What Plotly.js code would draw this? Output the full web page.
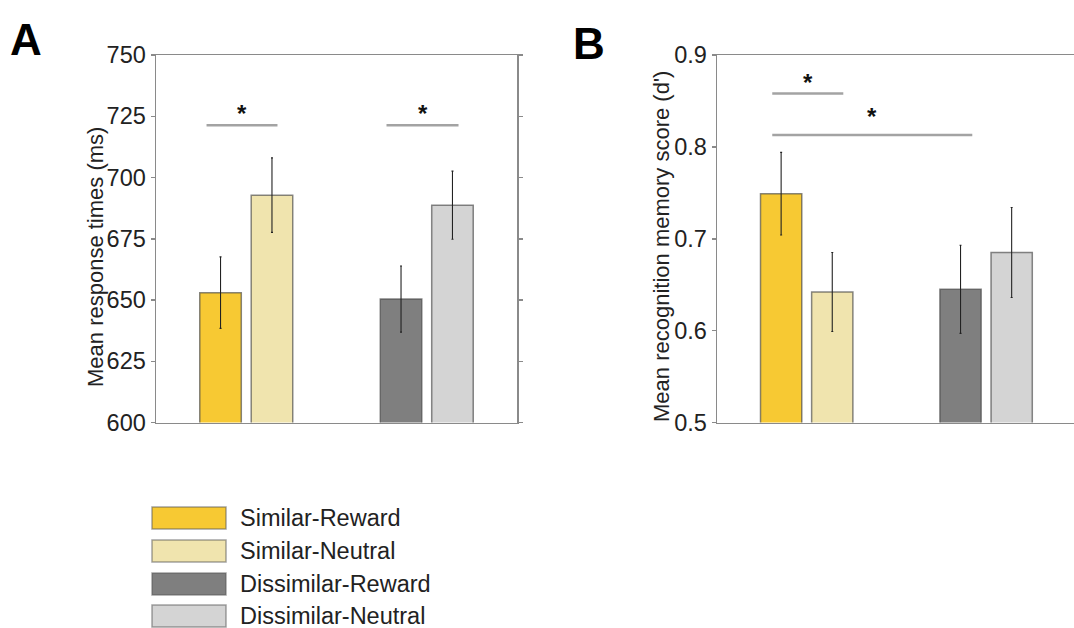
<!DOCTYPE html>
<html>
<head>
<meta charset="utf-8">
<script src="https://cdn.plot.ly/plotly-3.0.1.min.js"></script>
<style>
  html, body { margin: 0; padding: 0; background: #ffffff; }
  #chart { width: 1074px; height: 628px; }
</style>
</head>
<body>
<div id="chart"></div>
<script>
// ---------------- data ----------------
var conditions = ['Similar-Reward', 'Similar-Neutral', 'Dissimilar-Reward', 'Dissimilar-Neutral'];
var groupOf = ['Similar', 'Similar', 'Dissimilar', 'Dissimilar'];
var groups = ['Similar', 'Dissimilar'];

// Panel A: mean response times (ms) and error (SEM)
var rtMean = [653, 692.8, 650.4, 688.7];
var rtErr = [14.6, 15.2, 13.5, 13.9];

// Panel B: mean recognition memory score (d') and error (SEM)
var dMean = [0.749, 0.642, 0.645, 0.685];
var dErr = [0.045, 0.043, 0.048, 0.049];

// significance markers: [x0, x1, y] in axis units
var sigA = [[-0.22, 0.173, 721.3], [0.777, 1.176, 721.3]];
var sigB = [[-0.192, 0.204, 0.858], [-0.192, 0.923, 0.8128]];

var yTicksA = [600, 625, 650, 675, 700, 725, 750];
var yTicksB = [0.5, 0.6, 0.7, 0.8, 0.9];

// ---------------- style ----------------
var colors = ['#F7C933', '#F0E4AE', '#7F7F7F', '#D4D4D4'];
var barW = 0.23, innerGap = 0.055;
var offsets = [-(barW + innerGap / 2), innerGap / 2, -(barW + innerGap / 2), innerGap / 2];
var font = 'Liberation Sans, Arial, sans-serif';
var axisCol = '#8a8a8a';
var W = 1074, H = 628;
function px(x) { return x / W; }
function py(y) { return 1 - y / H; }

var traces = [];
function addPanel(means, errs, xa, ya) {
  for (var i = 0; i < conditions.length; i++) {
    traces.push({
      type: 'bar',
      name: conditions[i],
      x: [groupOf[i]],
      y: [means[i]],
      width: barW,
      offset: offsets[i],
      xaxis: xa, yaxis: ya,
      marker: { color: colors[i], line: { color: 'rgba(70,70,70,0.65)', width: 1.5 } },
      error_y: { type: 'data', array: [errs[i]], visible: true, color: '#222', thickness: 1.1, width: 1 },
      showlegend: false,
      hoverinfo: 'skip'
    });
  }
}
addPanel(rtMean, rtErr, 'x', 'y');
addPanel(dMean, dErr, 'x2', 'y2');

var shapes = [];
var annotations = [];
function addSig(list, xr, yr) {
  list.forEach(function (s) {
    shapes.push({ type: 'line', xref: xr, yref: yr, x0: s[0], x1: s[1], y0: s[2], y1: s[2],
                  line: { color: '#a3a3a3', width: 2.5 } });
  });
}
addSig(sigA, 'x', 'y');
addSig(sigB, 'x2', 'y2');

// stars (centered over each significance line)
var starsA = [[(sigA[0][0] + sigA[0][1]) / 2, 728.3], [(sigA[1][0] + sigA[1][1]) / 2, 728.3]];
var starsB = [[(sigB[0][0] + sigB[0][1]) / 2, 0.876], [(sigB[1][0] + sigB[1][1]) / 2, 0.838]];
function addStars(list, xr, yr) {
  list.forEach(function (s) {
    annotations.push({ xref: xr, yref: yr, x: s[0], y: s[1], text: '<b>*</b>', showarrow: false,
                       font: { family: font, size: 24, color: '#111' }, yanchor: 'middle', yshift: -5 });
  });
}
addStars(starsA, 'x', 'y');
addStars(starsB, 'x2', 'y2');

// panel letters
annotations.push({ xref: 'paper', yref: 'paper', x: px(8), y: py(40), xanchor: 'left', yanchor: 'middle',
                   text: '<b>A</b>', showarrow: false, font: { family: font, size: 44, color: '#000' } });
annotations.push({ xref: 'paper', yref: 'paper', x: px(571), y: py(43), xanchor: 'left', yanchor: 'middle',
                   text: '<b>B</b>', showarrow: false, font: { family: font, size: 44, color: '#000' } });

// y-axis titles
annotations.push({ xref: 'paper', yref: 'paper', x: px(95), y: py(257), xanchor: 'center', yanchor: 'middle',
                   text: 'Mean response times (ms)', textangle: -90, showarrow: false,
                   font: { family: font, size: 22, color: '#222' } });
annotations.push({ xref: 'paper', yref: 'paper', x: px(661), y: py(247), xanchor: 'center', yanchor: 'middle',
                   text: "Mean recognition memory score (d')", textangle: -90, showarrow: false,
                   font: { family: font, size: 22, color: '#222' } });

// legend (drawn as patches + labels)
var legRowY = [518, 551, 584, 616];
for (var i = 0; i < conditions.length; i++) {
  shapes.push({ type: 'rect', xref: 'paper', yref: 'paper', x0: px(152), x1: px(226),
                y0: py(legRowY[i] + 11), y1: py(legRowY[i] - 11),
                fillcolor: colors[i], line: { color: 'rgba(90,90,90,0.55)', width: 1.5 } });
  annotations.push({ xref: 'paper', yref: 'paper', x: px(238), y: py(legRowY[i]), xanchor: 'left', yanchor: 'middle',
                     text: conditions[i], showarrow: false, font: { family: font, size: 23.5, color: '#222' } });
}

var baseX = { type: 'category', categoryorder: 'array', categoryarray: groups, range: [-0.5, 1.5],
              showticklabels: false, ticks: '', showgrid: false, zeroline: false,
              showline: true, linecolor: axisCol, linewidth: 1.5, mirror: true, fixedrange: true };
var baseY = { showgrid: false, zeroline: false, showline: true, linecolor: axisCol, linewidth: 1.5,
              ticks: 'outside', ticklen: 4, tickcolor: axisCol, tickwidth: 1.5,
              tickfont: { family: font, size: 23.5, color: '#222' }, fixedrange: true };

var layout = {
  width: W, height: H,
  margin: { l: 0, r: 0, t: 0, b: 0 },
  paper_bgcolor: '#ffffff', plot_bgcolor: '#ffffff',
  showlegend: false,
  barmode: 'overlay',
  xaxis: Object.assign({}, baseX, { domain: [px(156), px(517)], anchor: 'y' }),
  yaxis: Object.assign({}, baseY, { domain: [py(422.5), py(55)], anchor: 'x', range: [600, 750],
                                    tickvals: yTicksA, mirror: 'ticks' }),
  xaxis2: Object.assign({}, baseX, { domain: [px(717), 1], anchor: 'y2', range: [-0.5, 1.49] }),
  yaxis2: Object.assign({}, baseY, { domain: [py(422.5), py(55)], anchor: 'x2', range: [0.5, 0.9],
                                     tickvals: yTicksB, tickformat: '.1f', mirror: false }),
  shapes: shapes,
  annotations: annotations
};

Plotly.newPlot('chart', traces, layout, { staticPlot: true, displayModeBar: false });
</script>
</body>
</html>
